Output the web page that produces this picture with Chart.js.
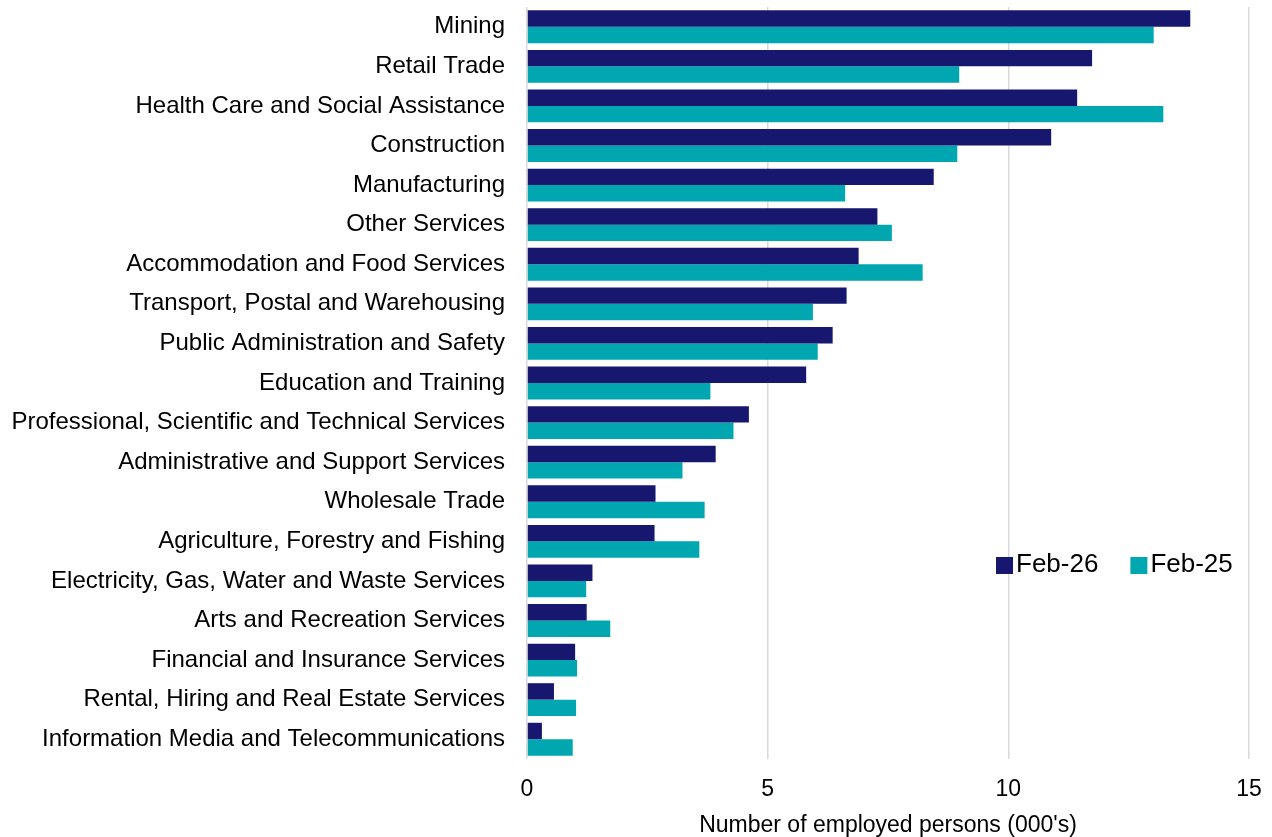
<!DOCTYPE html>
<html>
<head>
<meta charset="utf-8">
<script src="https://cdn.jsdelivr.net/npm/chart.js@4/dist/chart.umd.min.js"></script>
<style>
    html, body { margin: 0; padding: 0; background: #fff; }
    #wrap { width: 1272px; height: 837px; }
</style>
</head>
<body>
<div id="wrap"><canvas id="chart" width="1272" height="837"></canvas></div>
<script>
const industries = [
    'Mining',
    'Retail Trade',
    'Health Care and Social Assistance',
    'Construction',
    'Manufacturing',
    'Other Services',
    'Accommodation and Food Services',
    'Transport, Postal and Warehousing',
    'Public Administration and Safety',
    'Education and Training',
    'Professional, Scientific and Technical Services',
    'Administrative and Support Services',
    'Wholesale Trade',
    'Agriculture, Forestry and Fishing',
    'Electricity, Gas, Water and Waste Services',
    'Arts and Recreation Services',
    'Financial and Insurance Services',
    'Rental, Hiring and Real Estate Services',
    'Information Media and Telecommunications'
];

const feb26 = [13.78, 11.74, 11.43, 10.89, 8.45, 7.28, 6.89, 6.64, 6.35, 5.80,
               4.61, 3.92, 2.67, 2.65, 1.36, 1.24, 1.00, 0.56, 0.31];
const feb25 = [13.02, 8.98, 13.22, 8.94, 6.61, 7.58, 8.22, 5.94, 6.04, 3.81,
               4.29, 3.23, 3.69, 3.58, 1.23, 1.73, 1.04, 1.02, 0.95];

const seriesLabels = ['Feb-26', 'Feb-25'];
const xTicks = [0, 5, 10, 15];
const axisTitle = "Number of employed persons (000's)";

const NAVY = '#17176f';
const TEAL = '#00a7b1';
const FONT = "'Liberation Sans', Arial, sans-serif";

// legende dessinee a la main, dans la zone du graphique
const insideLegend = {
    id: 'insideLegend',
    afterDraw(chart) {
        const ctx = chart.ctx;
        const area = chart.chartArea;
        let x = area.right - 253;
        const y = area.top + (area.bottom - area.top) * 0.742;
        ctx.save();
        ctx.font = '26px ' + FONT;
        ctx.textBaseline = 'middle';
        ctx.textAlign = 'left';
        chart.data.datasets.forEach(ds => {
            ctx.fillStyle = ds.backgroundColor;
            ctx.fillRect(x, y - 8, 17, 17);
            ctx.fillStyle = '#000';
            ctx.fillText(ds.label, x + 20, y);
            x += 20 + ctx.measureText(ds.label).width + 32;
        });
        ctx.restore();
    }
};

new Chart(document.getElementById('chart'), {
    type: 'bar',
    data: {
        labels: industries,
        datasets: [
            { label: seriesLabels[0], data: feb26, backgroundColor: NAVY },
            { label: seriesLabels[1], data: feb25, backgroundColor: TEAL }
        ]
    },
    options: {
        indexAxis: 'y',
        responsive: false,
        animation: false,
        devicePixelRatio: 1,
        categoryPercentage: 0.83,
        barPercentage: 1.0,
        layout: {
            padding: { left: 0, right: 23, top: 7, bottom: 0 }
        },
        plugins: {
            legend: { display: false },
            tooltip: { enabled: false }
        },
        scales: {
            x: {
                min: 0,
                max: 15,
                afterBuildTicks: scale => {
                    scale.ticks = xTicks.map(v => ({ value: v }));
                },
                afterFit: scale => {
                    scale.height = 78;
                    scale.paddingLeft = 0;
                    scale.paddingRight = 0;
                },
                grid: { color: '#d9d9d9', lineWidth: 1.5, drawTicks: false },
                border: { display: false },
                ticks: {
                    padding: 17,
                    color: '#000',
                    font: { family: FONT, size: 23 }
                },
                title: {
                    display: true,
                    text: axisTitle,
                    color: '#000',
                    padding: { top: 0, bottom: -2 },
                    font: { family: FONT, size: 23 }
                }
            },
            y: {
                afterFit: scale => {
                    scale.width = 527;
                    scale.paddingTop = 0;
                    scale.paddingBottom = 0;
                },
                grid: { display: false, drawTicks: false },
                border: { display: false },
                ticks: {
                    padding: 22,
                    color: '#000',
                    autoSkip: false,
                    font: { family: FONT, size: 24 }
                }
            }
        }
    },
    plugins: [insideLegend]
});
</script>
</body>
</html>
